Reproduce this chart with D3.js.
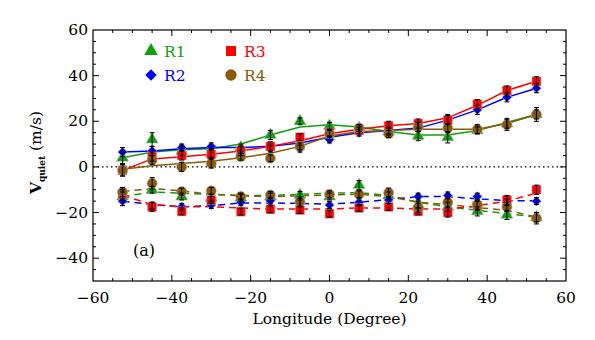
<!DOCTYPE html>
<html>
<head>
<meta charset="utf-8">
<script src="https://cdnjs.cloudflare.com/ajax/libs/d3/7.8.5/d3.min.js"></script>
<style>
  body { margin: 0; background: #fff; }
  text { font-family: "DejaVu Serif", serif; }
</style>
</head>
<body>
<script>
// longitudes of the bins
var lon = [-52.5, -45, -37.5, -30, -22.5, -15, -7.5, 0, 7.5, 15, 22.5, 30, 37.5, 45, 52.5];

// upper (solid) group: points, errors, fitted curve
var r1Up = [4, 12, 7, 6, 8.5, 14, 20, 18, 17, 15.5, 13.5, 13, 16, 19, 23];
var r2Up = [6.5, 7, 8.5, 9, 7.5, 8, 8, 12, 15, 16, 17.5, 21, 25, 30.5, 34.5];
var r3Up = [-1.5, 4.5, 5, 5.5, 7, 9, 13, 15, 16, 18, 19, 20.5, 27.5, 33.5, 37.5];
var r4Up = [-1.5, 3, 0, 1.5, 4.5, 3.8, 9, 14.5, 17, 14.5, 17.5, 17, 16.5, 18.5, 23];
var r1UpErr = [2.5, 3, 2, 2, 1.5, 2, 1.5, 1.5, 1.5, 1.5, 2, 2.5, 1.5, 2, 2];
var r2UpErr = [2, 2, 1.5, 1.5, 1.5, 1.5, 1.5, 1.5, 1.5, 1.5, 2, 2, 2, 2, 2];
var r3UpErr = [2.5, 2, 2, 2, 2, 2, 1.5, 1.5, 1.5, 2, 2, 2, 2, 2, 2];
var r4UpErr = [2.5, 2, 2, 2, 1.5, 1.5, 1.5, 1.5, 1.5, 1.5, 2, 2, 2, 2.5, 3];
var r1UpFit = [4, 6.5, 7.5, 8, 10, 14, 17.5, 18.5, 17.5, 15.5, 14, 14, 16, 19.5, 23];
var r2UpFit = [6.5, 7, 8, 8.5, 8.5, 9, 10.5, 13, 15, 16, 17, 20.5, 25, 30.5, 34.5];
var r3UpFit = [-1.5, 3.5, 4.5, 5.5, 7, 9, 11.5, 14.5, 16.5, 18, 19, 21.5, 27, 33.5, 37.5];
var r4UpFit = [-1, 0.5, 1.5, 2.5, 4, 6, 9, 13.5, 15.5, 16, 16.5, 16.5, 16.5, 19, 23];

// lower (dashed) group
var r1Lo = [-13, -10, -13, -13.5, -13.5, -13, -12.3, -13, -8, -12.5, -16.5, -17.5, -19.5, -21, -22];
var r2Lo = [-15, -17, -17.5, -16.7, -15.5, -14.8, -16, -16.7, -15.5, -14.5, -13, -12.5, -13, -15.5, -15];
var r3Lo = [-12, -17.5, -19.5, -14.5, -19.6, -18.6, -18.9, -20.5, -18, -17.5, -19.5, -20, -17, -14.5, -10];
var r4Lo = [-11, -7.2, -10.8, -10.5, -13, -12.3, -15.2, -12, -12, -11.3, -17.8, -15.5, -16.5, -17.5, -22.5];
var r1LoErr = [2, 1.5, 1.5, 1.5, 1.5, 1.5, 1.5, 1.5, 2, 1.5, 1.5, 2, 2, 2, 2];
var r2LoErr = [2, 1.5, 1.5, 1.5, 1.5, 1.5, 1.5, 1.5, 1.5, 1.5, 1.5, 1.5, 1.5, 1.5, 1.5];
var r3LoErr = [2, 2, 1.5, 1.5, 1.5, 1.5, 1.5, 1.5, 1.5, 1.5, 1.5, 2, 2, 2, 2];
var r4LoErr = [2, 2.5, 1.5, 1.5, 1.5, 1.5, 2, 1.5, 1.5, 2, 2, 2, 2, 2, 2.5];
var r1LoFit = [-13, -11, -11.5, -12, -12.5, -12.5, -12, -11.5, -11.3, -12.5, -15.5, -17.5, -19, -20.5, -22];
var r2LoFit = [-15, -16.5, -17.5, -17, -15.8, -15.8, -16, -16.3, -15.5, -14.3, -13, -13, -14, -14.8, -14.8];
var r3LoFit = [-12.5, -16.5, -17.5, -17.5, -18, -18.5, -18.5, -18.5, -18, -18, -18.5, -18.5, -17, -15, -11.5];
var r4LoFit = [-10.8, -9.5, -10.5, -12, -12.7, -13, -12.7, -12.3, -12, -13, -15.5, -16.5, -17.8, -19, -22];

var xTicks = [-60, -40, -20, 0, 20, 40, 60];
var yTicks = [-40, -20, 0, 20, 40, 60];

var series = [
  {name: "R1", color: "#0ea00e", sym: d3.symbolTriangle, size: 62, rot: 0,
   up: r1Up, upErr: r1UpErr, upFit: r1UpFit, lo: r1Lo, loErr: r1LoErr, loFit: r1LoFit},
  {name: "R2", color: "#0000ff", sym: d3.symbolSquare, size: 45, rot: 45,
   up: r2Up, upErr: r2UpErr, upFit: r2UpFit, lo: r2Lo, loErr: r2LoErr, loFit: r2LoFit},
  {name: "R3", color: "#ff0000", sym: d3.symbolSquare, size: 80, rot: 0,
   up: r3Up, upErr: r3UpErr, upFit: r3UpFit, lo: r3Lo, loErr: r3LoErr, loFit: r3LoFit},
  {name: "R4", color: "#8a5a08", sym: d3.symbolCircle, size: 80, rot: 0,
   up: r4Up, upErr: r4UpErr, upFit: r4UpFit, lo: r4Lo, loErr: r4LoErr, loFit: r4LoFit}
];

var W = 595, H = 340;
var pl = 93, pr = 566, pt = 30, pb = 281;

var x = d3.scaleLinear().domain([-60, 60]).range([pl, pr]);
var y = d3.scaleLinear().domain([-50, 60]).range([pb, pt]);

var svg = d3.select("body").append("svg")
    .attr("width", W).attr("height", H);

// frame
svg.append("rect")
    .attr("x", pl).attr("y", pt)
    .attr("width", pr - pl).attr("height", pb - pt)
    .attr("fill", "none").attr("stroke", "#000").attr("stroke-width", 1.2);

// ticks inward on all sides
var g = svg.append("g").attr("stroke", "#000").attr("stroke-width", 1);
d3.range(-60, 61, 5).forEach(function(v) {
  var len = (v % 20 === 0) ? 6 : 3;
  if (v === -60 || v === 60) return;
  g.append("line").attr("x1", x(v)).attr("x2", x(v)).attr("y1", pb).attr("y2", pb - len);
  g.append("line").attr("x1", x(v)).attr("x2", x(v)).attr("y1", pt).attr("y2", pt + len);
});
d3.range(-50, 61, 5).forEach(function(v) {
  var len = (v % 20 === 0) ? 6 : 3;
  if (v === -50 || v === 60) return;
  g.append("line").attr("y1", y(v)).attr("y2", y(v)).attr("x1", pl).attr("x2", pl + len);
  g.append("line").attr("y1", y(v)).attr("y2", y(v)).attr("x1", pr).attr("x2", pr - len);
});

// tick labels
svg.selectAll(".xl").data(xTicks).enter().append("text")
    .attr("x", function(d) { return x(d); })
    .attr("y", 303)
    .attr("text-anchor", "middle")
    .attr("font-size", 15.5)
    .text(function(d) { return d < 0 ? "\u2212" + (-d) : d; });

svg.selectAll(".yl").data(yTicks).enter().append("text")
    .attr("x", pl - 5)
    .attr("y", function(d) { return y(d) + 5; })
    .attr("text-anchor", "end")
    .attr("font-size", 15.5)
    .text(function(d) { return d < 0 ? "\u2212" + (-d) : d; });

// axis titles
svg.append("text")
    .attr("x", (pl + pr) / 2).attr("y", 324)
    .attr("text-anchor", "middle").attr("font-size", 15.5)
    .text("Longitude (Degree)");

var yt = svg.append("text")
    .attr("transform", "translate(41," + ((pt + pb) / 2 - 3) + ") rotate(-90)")
    .attr("text-anchor", "middle").attr("font-size", 15.5).attr("font-weight", "bold");
yt.append("tspan").text("V");
yt.append("tspan").attr("font-size", 9).attr("dy", 4).text("quiet");
yt.append("tspan").attr("dy", -4).attr("font-weight", "normal").text(" (m/s)");

// zero line
svg.append("line")
    .attr("x1", pl).attr("x2", pr).attr("y1", y(0)).attr("y2", y(0))
    .attr("stroke", "#000").attr("stroke-width", 1.3).attr("stroke-dasharray", "1.5,3");

var line = d3.line()
    .x(function(d, i) { return x(lon[i]); })
    .y(function(d) { return y(d); });

// fitted curves
series.forEach(function(s) {
  svg.append("path").attr("d", line(s.upFit))
      .attr("fill", "none").attr("stroke", s.color).attr("stroke-width", 1.5);
  svg.append("path").attr("d", line(s.loFit))
      .attr("fill", "none").attr("stroke", s.color).attr("stroke-width", 1.5)
      .attr("stroke-dasharray", "7,5");
});

// markers
series.forEach(function(s) {
  var sym = d3.symbol().type(s.sym).size(s.size);
  [s.up, s.lo].forEach(function(vals) {
    svg.append("g").selectAll("path").data(vals).enter().append("path")
        .attr("d", sym)
        .attr("transform", function(d, i) {
          return "translate(" + x(lon[i]) + "," + y(d) + ") rotate(" + s.rot + ")";
        })
        .attr("fill", s.color)
        .attr("stroke", "#aaa").attr("stroke-width", 0.6);
  });
});

// error bars
series.forEach(function(s) {
  [[s.up, s.upErr], [s.lo, s.loErr]].forEach(function(p) {
    var eg = svg.append("g").attr("stroke", "#000").attr("stroke-width", 1);
    p[0].forEach(function(v, i) {
      var cx = x(lon[i]), y1 = y(v - p[1][i]), y2 = y(v + p[1][i]);
      eg.append("line").attr("x1", cx).attr("x2", cx).attr("y1", y1).attr("y2", y2);
      eg.append("line").attr("x1", cx - 2.5).attr("x2", cx + 2.5).attr("y1", y1).attr("y2", y1);
      eg.append("line").attr("x1", cx - 2.5).attr("x2", cx + 2.5).attr("y1", y2).attr("y2", y2);
    });
  });
});

// legend
var legPos = [[151, 51], [151, 75], [231, 51], [231, 75]];
series.forEach(function(s, i) {
  var p = legPos[i];
  svg.append("path")
      .attr("d", d3.symbol().type(s.sym).size(s.size + 20))
      .attr("transform", "translate(" + p[0] + "," + p[1] + ") rotate(" + s.rot + ")")
      .attr("fill", s.color);
  svg.append("text")
      .attr("x", p[0] + 13).attr("y", p[1] + 6)
      .attr("font-size", 15.5).attr("fill", s.color)
      .text(s.name);
});

svg.append("text")
    .attr("x", 133).attr("y", 256)
    .attr("font-size", 16)
    .text("(a)");
</script>
</body>
</html>
